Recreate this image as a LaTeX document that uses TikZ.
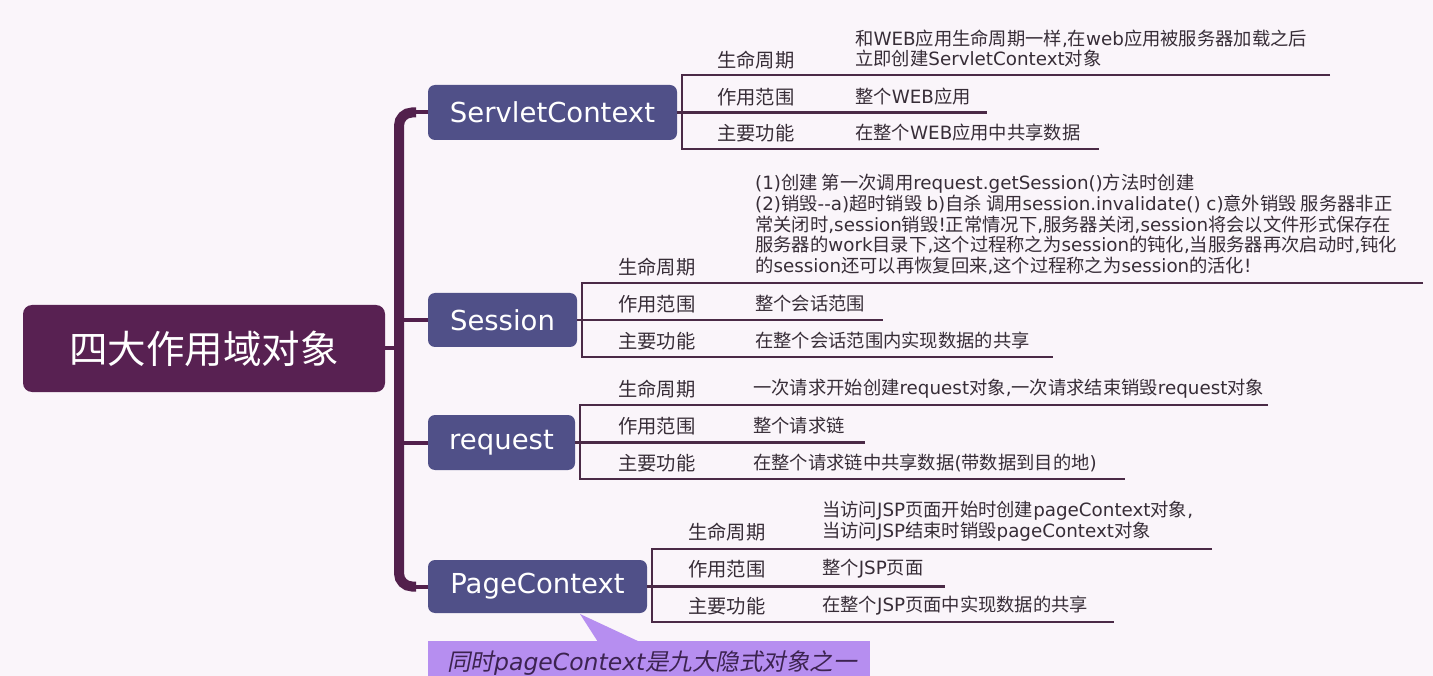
\documentclass[tikz,border=0pt]{standalone}
\usepackage{fontspec}
\setmainfont{DejaVu Sans}
\newfontfamily\latinfont{DejaVu Sans}
\newfontfamily\cjkfont{Noto Sans CJK SC}[ItalicFont={Noto Sans CJK SC}, ItalicFeatures={FakeSlant=0.2}]
% CJK characters get their own class; switch fonts at class changes
\newcount\cjkcnt
\cjkcnt="3000
\loop \XeTeXcharclass\cjkcnt=200 \ifnum\cjkcnt<"9FFF \advance\cjkcnt by 1 \repeat
\cjkcnt="FF00
\loop \XeTeXcharclass\cjkcnt=200 \ifnum\cjkcnt<"FFEF \advance\cjkcnt by 1 \repeat
\XeTeXinterchartokenstate=1
\XeTeXinterchartoks 0 200 = {\cjkfont}
\XeTeXinterchartoks 4095 200 = {\cjkfont}
\XeTeXinterchartoks 200 0 = {\latinfont}
\XeTeXinterchartoks 4095 0 = {\latinfont}
\definecolor{bg}{RGB}{250,245,250}
\definecolor{rootc}{RGB}{88,33,82}
\definecolor{trunkc}{RGB}{82,32,76}
\definecolor{boxc}{RGB}{80,80,136}
\definecolor{linec}{RGB}{74,42,70}
\definecolor{txtc}{RGB}{55,45,55}
\definecolor{calloutc}{RGB}{182,142,240}
\definecolor{callouttxt}{RGB}{60,35,80}
\tikzset{
  rootbox/.style={fill=rootc, rounded corners=9pt, text=white, font=\fontsize{38.5pt}{44pt}\selectfont, inner sep=0pt},
  branchbox/.style={fill=boxc, rounded corners=7pt, text=white, font=\fontsize{27.5pt}{32pt}\selectfont, inner sep=0pt},
  lbl/.style={anchor=west, inner sep=0pt, text=txtc, font=\fontsize{19.3pt}{22pt}\selectfont},
  val/.style={anchor=west, inner sep=0pt, text=txtc, align=left, font=\fontsize{18.3pt}{20.8pt}\selectfont},
  detail/.style={draw=linec, line width=2.8pt},
  trunk/.style={draw=trunkc, line width=10pt, rounded corners=13pt},
  stub/.style={draw=trunkc, line width=4pt}
}
\begin{document}
\begin{tikzpicture}[x=1pt,y=-1pt]
\fill[bg] (0,0) rectangle (1433,676);
\useasboundingbox (0,0) rectangle (1433,676);

% root
\node[rootbox, minimum width=362pt, minimum height=87pt] (root) at (204,348.5) {四大作用域对象};

% branch boxes
\node[branchbox, minimum width=249pt, minimum height=55pt] (sc) at (552.5,112.5) {ServletContext};
\node[branchbox, minimum width=149pt, minimum height=54pt] (ss) at (502.5,320) {Session};
\node[branchbox, minimum width=147pt, minimum height=55pt] (rq) at (501.5,442.5) {request};
\node[branchbox, minimum width=219pt, minimum height=53pt] (pc) at (537.5,586.5) {PageContext};

% trunk
\coordinate (tk) at (399,348.5);
\coordinate (ttop) at (416,112.5);
\coordinate (tbot) at (416,586.5);
\draw[trunk] (ttop) -- (399,112.5) -- (399,586.5) -- (tbot);
\draw[stub] (ttop) -- (sc.west);
\draw[stub] (tbot) -- (pc.west);
\draw[stub] (root.east) -- (tk);
\draw[stub] (399,320) -- (ss.west);
\draw[stub] (399,442.5) -- (rq.west);

% ---------- ServletContext details
\coordinate (sc1a) at (682,75);   \coordinate (sc1b) at (1330,75);
\coordinate (sc2b) at (987,112.5);
\coordinate (sc3a) at (682,149);  \coordinate (sc3b) at (1099,149);
\draw[detail] (sc1b) -- (sc1a) -- (sc3a) -- (sc3b);
\draw[detail] (sc.east) -- (sc2b);
\node[lbl] (scl1) at (717,60) {生命周期};
\node[lbl] (scl2) at (717,97) {作用范围};
\node[lbl] (scl3) at (717,133) {主要功能};
\node[val] (scv1) at (855,48.5) {和WEB应用生命周期一样,在web应用被服务器加载之后\\立即创建ServletContext对象};
\node[val] (scv2) at (855,97) {整个WEB应用};
\node[val] (scv3) at (855,133) {在整个WEB应用中共享数据};

% ---------- Session details
\coordinate (ss1a) at (582,283);  \coordinate (ss1b) at (1423,283);
\coordinate (ss2b) at (883,320);
\coordinate (ss3a) at (582,357);  \coordinate (ss3b) at (1053,357);
\draw[detail] (ss1b) -- (ss1a) -- (ss3a) -- (ss3b);
\draw[detail] (ss.east) -- (ss2b);
\node[lbl] (ssl1) at (618,267) {生命周期};
\node[lbl] (ssl2) at (618,304) {作用范围};
\node[lbl] (ssl3) at (618,341) {主要功能};
\node[val] (ssv1) at (755,224.5) {(1)创建 第一次调用request.getSession()方法时创建\\(2)销毁-{}-a)超时销毁 b)自杀 调用session.invalidate() c)意外销毁 服务器非正\\常关闭时,session销毁!正常情况下,服务器关闭,session将会以文件形式保存在\\服务器的work目录下,这个过程称之为session的钝化,当服务器再次启动时,钝化\\的session还可以再恢复回来,这个过程称之为session的活化!};
\node[val] (ssv2) at (755,304) {整个会话范围};
\node[val] (ssv3) at (755,341) {在整个会话范围内实现数据的共享};

% ---------- request details
\coordinate (rq1a) at (580,405);  \coordinate (rq1b) at (1268,405);
\coordinate (rq2b) at (865,442.5);
\coordinate (rq3a) at (580,479);  \coordinate (rq3b) at (1125,479);
\draw[detail] (rq1b) -- (rq1a) -- (rq3a) -- (rq3b);
\draw[detail] (rq.east) -- (rq2b);
\node[lbl] (rql1) at (618,389) {生命周期};
\node[lbl] (rql2) at (618,426) {作用范围};
\node[lbl] (rql3) at (618,463) {主要功能};
\node[val] (rqv1) at (753,389) {一次请求开始创建request对象,一次请求结束销毁request对象};
\node[val] (rqv2) at (753,426) {整个请求链};
\node[val] (rqv3) at (753,463) {在整个请求链中共享数据(带数据到目的地)};

% ---------- PageContext details
\coordinate (pc1a) at (652,549);  \coordinate (pc1b) at (1212,549);
\coordinate (pc2b) at (945,586.5);
\coordinate (pc3a) at (652,622);  \coordinate (pc3b) at (1114,622);
\draw[detail] (pc1b) -- (pc1a) -- (pc3a) -- (pc3b);
\draw[detail] (pc.east) -- (pc2b);
\node[lbl] (pcl1) at (688,532) {生命周期};
\node[lbl] (pcl2) at (688,569) {作用范围};
\node[lbl] (pcl3) at (688,606) {主要功能};
\node[val] (pcv1) at (822,521.5) {当访问JSP页面开始时创建pageContext对象,\\当访问JSP结束时销毁pageContext对象};
\node[val] (pcv2) at (822,569) {整个JSP页面};
\node[val] (pcv3) at (822,606) {在整个JSP页面中实现数据的共享};

% ---------- callout
\coordinate (ctip) at (580,614);
\fill[calloutc] (428,641) rectangle (870,690);
\fill[calloutc] (ctip) -- (640,642) -- (598,642) -- cycle;
\node[anchor=west, inner sep=0pt, text=callouttxt, font=\itshape\fontsize{23.5pt}{27pt}\selectfont] (cnote) at (447,663) {同时pageContext是九大隐式对象之一};
\end{tikzpicture}
\end{document}
